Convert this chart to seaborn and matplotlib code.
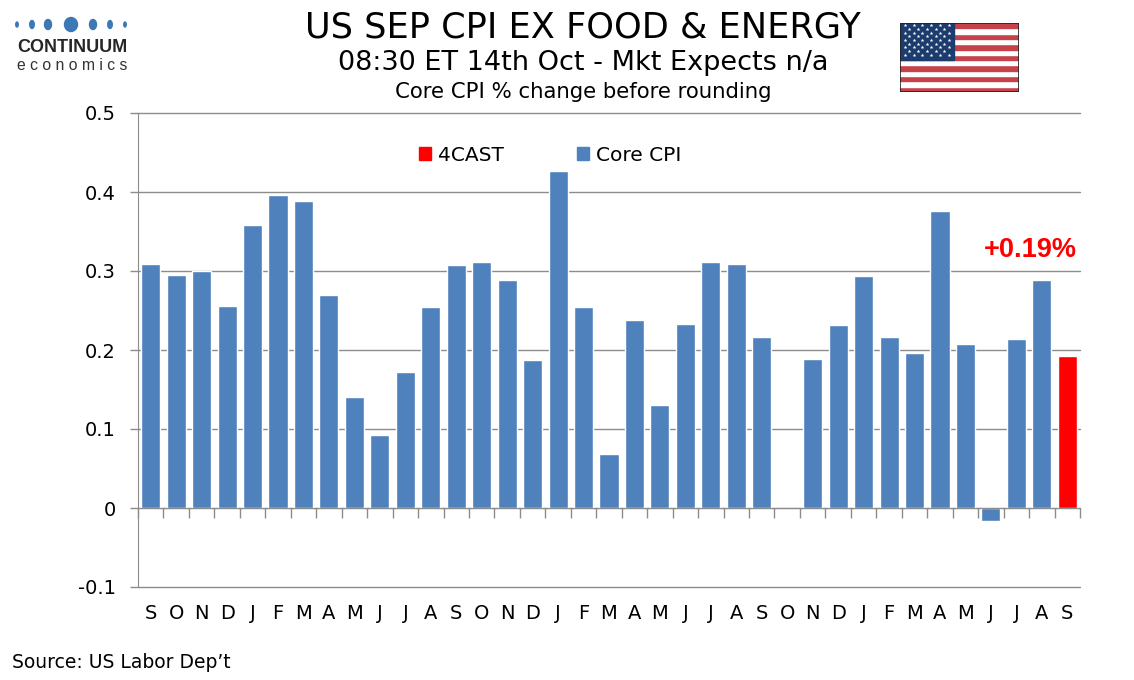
import numpy as np
import pandas as pd
import matplotlib
matplotlib.use("Agg")
import matplotlib.pyplot as plt
import seaborn as sns
from matplotlib.patches import Patch, Rectangle, Ellipse

# data
months = ["S", "O", "N", "D", "J", "F", "M", "A", "M", "J", "J", "A",
          "S", "O", "N", "D", "J", "F", "M", "A", "M", "J", "J", "A",
          "S", "O", "N", "D", "J", "F", "M", "A", "M", "J", "J", "A",
          "S"]
core_cpi = [0.309, 0.295, 0.300, 0.256, 0.358, 0.396, 0.389, 0.270, 0.140,
            0.092, 0.172, 0.254, 0.307, 0.312, 0.288, 0.187, 0.426, 0.255,
            0.068, 0.238, 0.130, 0.233, 0.312, 0.309, 0.217, np.nan, 0.189,
            0.232, 0.294, 0.216, 0.196, 0.376, 0.208, -0.017, 0.214, 0.289]
forecast = 0.193
yticks = [-0.1, 0, 0.1, 0.2, 0.3, 0.4, 0.5]

blue = "#4F81BD"
red = "#FF0000"
grey = "#8C8C8C"

df = pd.DataFrame({
    "pos": list(range(len(months))),
    "value": core_cpi + [forecast],
    "series": ["Core CPI"] * len(core_cpi) + ["4CAST"],
})

sns.set_style("white")
plt.rcParams["font.family"] = ["DejaVu Sans"]
plt.rcParams["text.color"] = "black"

fig = plt.figure(figsize=(11.34, 6.8), dpi=100)
ax = fig.add_axes([138 / 1134, 1 - 587 / 680, 942 / 1134, 474 / 680])

sns.barplot(data=df, x="pos", y="value", hue="series", order=list(range(len(months))),
            palette={"Core CPI": blue, "4CAST": red}, dodge=False, width=0.75,
            saturation=1, errorbar=None, legend=False, ax=ax, zorder=3)

ax.set_xlim(-0.5, len(months) - 0.5)
ax.set_ylim(-0.1, 0.5)
ax.set_yticks(yticks)
ax.set_yticklabels(["-0.1", "0", "0.1", "0.2", "0.3", "0.4", "0.5"])
ax.yaxis.grid(True, color=grey, lw=1)
for gl in ax.get_ygridlines():
    gl.set_clip_on(False)
ax.set_axisbelow(True)
ax.tick_params(axis="y", left=True, length=6, color=grey, width=1, pad=10, labelsize=14,
               labelcolor="black")

ax.set_xticks(range(len(months)))
ax.set_xticklabels(months)
ax.set_xticks(np.arange(-0.5, len(months)), minor=True)
ax.tick_params(axis="x", which="major", bottom=True, length=0, pad=69, labelsize=14,
               labelcolor="black")
ax.tick_params(axis="x", which="minor", bottom=True, length=7, color=grey, width=1,
               direction="out")
ax.set_xlabel("")
ax.set_ylabel("")

for s in ["top", "right"]:
    ax.spines[s].set_visible(False)
ax.spines["bottom"].set_position(("data", 0))
ax.spines["bottom"].set_color(grey)
ax.spines["left"].set_color(grey)
ax.spines["left"].set_zorder(4)
ax.spines["bottom"].set_zorder(4)

handles = [Patch(color=red, label="4CAST"), Patch(color=blue, label="Core CPI")]
ax.legend(handles=handles, ncol=2, frameon=False, loc="center left",
          bbox_to_anchor=(0.29, 0.911), handlelength=0.6, handleheight=0.6,
          handletextpad=0.35, columnspacing=3.6, fontsize=14.5, borderaxespad=0)

ax.text(len(months) - 0.62, 0.327, f"+{forecast:.2f}%", color=red, ha="right", va="center",
        fontsize=19.5, fontweight="bold", family="Liberation Sans")

# titles
fig.text(583 / 1134, 1 - 28 / 680, "US SEP CPI EX FOOD & ENERGY", ha="center", va="center",
         fontsize=25.3)
fig.text(583 / 1134, 1 - 63 / 680, "08:30 ET 14th Oct - Mkt Expects n/a", ha="center",
         va="center", fontsize=19.5)
fig.text(583 / 1134, 1 - 92 / 680, "Core CPI % change before rounding", ha="center",
         va="center", fontsize=15.3)
fig.text(12 / 1134, 1 - 662 / 680, "Source: US Labor Dep\u2019t", ha="left", va="center",
         fontsize=13.5)

# logo
logo = fig.add_axes([0, 0, 1, 1], zorder=-1)
logo.set_xlim(0, 1134)
logo.set_ylim(680, 0)
logo.axis("off")
for cx, w, h in [(17, 2.5, 5), (32, 4.5, 8), (48, 7, 10), (71, 13, 14),
                 (93, 7, 10), (110, 4.5, 8), (125, 2.5, 5)]:
    logo.add_patch(Ellipse((cx, 24.5), w, h, color="#3B78B4"))
logo.text(72, 47.5, "CONTINUUM", ha="center", va="center", fontsize=13,
          fontweight="bold", family="Liberation Sans", color="#262626")
logo.text(72, 65.5, "e c o n o m i c s", ha="center", va="center", fontsize=11.3,
          family="Liberation Sans", color="#333333")

# flag
flag = fig.add_axes([900 / 1134, 1 - 92 / 680, 119 / 1134, 69 / 680])
flag.set_xlim(0, 1)
flag.set_ylim(0, 1)
flag.axis("off")
for i in range(13):
    flag.add_patch(Rectangle((0, i / 13), 1, 1 / 13,
                             color="#C4434B" if i % 2 == 0 else "white"))
flag.add_patch(Rectangle((0, 6 / 13), 0.45, 7 / 13, color="#1D3C6E"))
sx, sy = [], []
for r in range(9):
    n = 6 if r % 2 == 0 else 5
    off = 0.04 if r % 2 == 0 else 0.077
    for c in range(n):
        sx.append(off + c * 0.074)
        sy.append(1 - 0.035 - r * 0.053)
flag.scatter(sx, sy, marker="*", s=8, color="white", linewidths=0)
flag.add_patch(Rectangle((0, 0), 1, 1, fill=False, ec="#222222", lw=1.2))

fig.savefig("out.png", dpi=100)
